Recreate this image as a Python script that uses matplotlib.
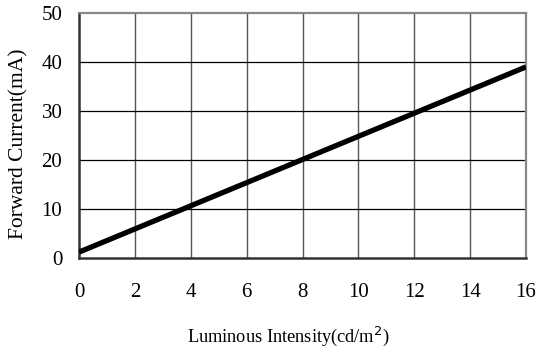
import matplotlib
matplotlib.use("Agg")
import matplotlib.pyplot as plt

# data
intensity = [0, 16]
current = [1.2, 39]
xticks = [0, 2, 4, 6, 8, 10, 12, 14, 16]
yticks = [0, 10, 20, 30, 40, 50]

plt.rcParams['font.family'] = ['Liberation Serif', 'DejaVu Serif']

fig = plt.figure(figsize=(5.39, 3.53), dpi=100)
ax = fig.add_axes([79/539, 1 - 258/353, (526 - 79)/539, (258 - 13)/353])

ax.set_xlim(0, 16)
ax.set_ylim(0, 50)
ax.set_xticks(xticks)
ax.set_yticks(yticks)

# grid: vertical grey, horizontal black
for x in xticks[1:-1]:
    ax.axvline(x, color='#555555', lw=1.0, zorder=1)
for y in yticks[1:-1]:
    ax.axhline(y, color='black', lw=0.9, zorder=1)

ax.plot(intensity, current, color='black', lw=3.8, solid_capstyle='butt', zorder=3)

ax.spines['top'].set_color('#888888')
ax.spines['right'].set_color('#888888')
ax.spines['top'].set_linewidth(1.6)
ax.spines['right'].set_linewidth(1.6)
ax.spines['bottom'].set_color('#333333')
ax.spines['left'].set_color('#333333')
ax.spines['bottom'].set_linewidth(1.8)
ax.spines['left'].set_linewidth(1.8)

ax.tick_params(length=0, labelsize=15)
ax.tick_params(axis='x', pad=18)
ax.tick_params(axis='y', pad=12)

ax.set_xlabel('Luminous Intensity(cd/m$^2$)', fontsize=13.2)
ax.set_ylabel('Forward Current(mA)', fontsize=15.5)
ax.xaxis.set_label_coords(0.468, -0.272)
ax.yaxis.set_label_coords(-0.112, 0.465)

fig.savefig('out.png', dpi=100)
